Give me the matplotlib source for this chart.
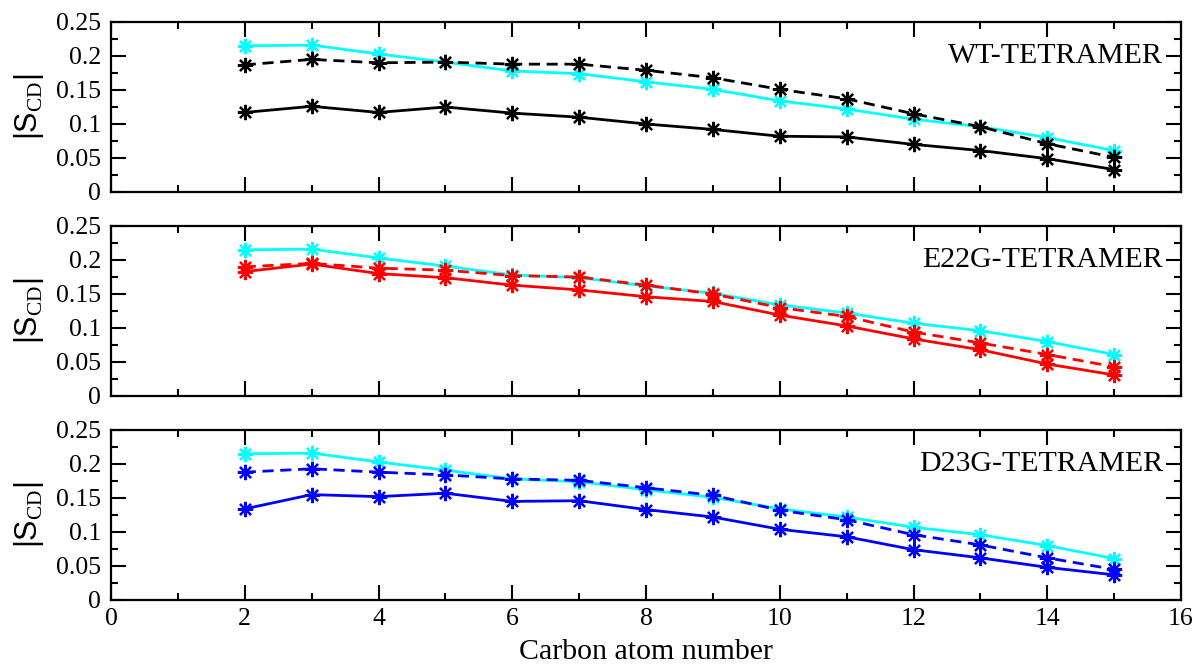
import matplotlib
matplotlib.use("Agg")
import matplotlib.pyplot as plt
from matplotlib.ticker import MultipleLocator

plt.rcParams["font.family"] = ["Liberation Serif", "DejaVu Serif"]
plt.rcParams["mathtext.fontset"] = "custom"
plt.rcParams["mathtext.rm"] = "Liberation Serif"

# Carbon positions along the acyl chain
carbons = [2, 3, 4, 5, 6, 7, 8, 9, 10, 11, 12, 13, 14, 15]

# Reference order parameter (pure bilayer)
ref_scd = [0.215, 0.216, 0.203, 0.191, 0.178, 0.174, 0.162,
           0.151, 0.134, 0.122, 0.107, 0.096, 0.080, 0.061]

# WT tetramer
wt_solid = [0.117, 0.126, 0.117, 0.125, 0.116, 0.110, 0.100,
            0.092, 0.082, 0.081, 0.070, 0.061, 0.049, 0.033]
wt_dashed = [0.187, 0.195, 0.190, 0.191, 0.188, 0.188, 0.179,
             0.168, 0.151, 0.137, 0.115, 0.096, 0.071, 0.051]

# E22G tetramer
e22g_solid = [0.183, 0.194, 0.180, 0.174, 0.163, 0.156, 0.146,
              0.139, 0.119, 0.103, 0.084, 0.068, 0.047, 0.031]
e22g_dashed = [0.190, 0.195, 0.188, 0.185, 0.177, 0.175, 0.163,
               0.150, 0.130, 0.117, 0.094, 0.078, 0.061, 0.043]

# D23G tetramer
d23g_solid = [0.134, 0.155, 0.152, 0.157, 0.145, 0.146, 0.133,
              0.122, 0.104, 0.093, 0.074, 0.062, 0.048, 0.037]
d23g_dashed = [0.188, 0.193, 0.188, 0.184, 0.178, 0.176, 0.165,
               0.154, 0.132, 0.118, 0.096, 0.081, 0.062, 0.045]

panels = [
    ("WT-TETRAMER", "black", wt_solid, wt_dashed),
    ("E22G-TETRAMER", "red", e22g_solid, e22g_dashed),
    ("D23G-TETRAMER", "blue", d23g_solid, d23g_dashed),
]

fig = plt.figure(figsize=(11.98, 6.66), dpi=100)

W, H = 1198.0, 666.0
left_px, right_px = 111, 1181
tops = [22, 226, 430]
panel_h = 170

asterisk = (8, 2, 0)
dash = (0, (4, 2.4))

for i, (label, color, solid, dashed) in enumerate(panels):
    top = tops[i]
    ax = fig.add_axes([left_px / W, 1 - (top + panel_h) / H,
                       (right_px - left_px) / W, panel_h / H])

    ax.plot(carbons, ref_scd, color="#00ffff", lw=2.0, marker=asterisk,
            ms=11, mew=1.6, zorder=2)
    ax.plot(carbons, dashed, color=color, lw=2.0, ls=dash, marker=asterisk,
            ms=11, mew=1.6, zorder=3)
    ax.plot(carbons, solid, color=color, lw=2.0, marker=asterisk,
            ms=11, mew=1.6, zorder=4)

    ax.set_xlim(0, 16)
    ax.set_ylim(0, 0.25)
    ax.xaxis.set_major_locator(MultipleLocator(2))
    ax.xaxis.set_minor_locator(MultipleLocator(1))
    ax.yaxis.set_minor_locator(MultipleLocator(0.025))
    ax.set_yticks([0, 0.05, 0.1, 0.15, 0.2, 0.25])
    ax.set_yticklabels(["0", "0.05", "0.1", "0.15", "0.2", "0.25"])

    ax.tick_params(which="both", direction="in", top=True, right=True,
                   width=1.5, labelsize=18.5)
    ax.tick_params(which="major", length=11)
    ax.tick_params(which="minor", length=5)
    ax.tick_params(axis="y", pad=7)
    ax.tick_params(axis="x", pad=6)
    for sp in ax.spines.values():
        sp.set_linewidth(1.6)

    if i < 2:
        ax.tick_params(axis="x", labelbottom=False)
    else:
        ax.set_xlabel("Carbon atom number", fontsize=21.5, labelpad=6)

    ax.set_ylabel(r"|S$_{\mathrm{CD}}$|", fontsize=22,
                  family=["Liberation Sans", "DejaVu Sans"])
    ax.yaxis.set_label_coords(-0.061, 0.5)

    ax.text(0.983, 0.2, label, transform=ax.get_yaxis_transform(),
            ha="right", va="center", fontsize=21.5)

fig.savefig("out.png", dpi=100)
